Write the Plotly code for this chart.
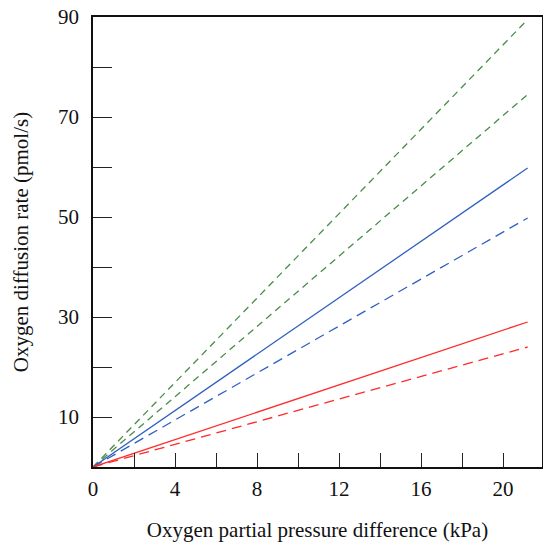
import plotly.graph_objects as go

# Data: lines from origin to end point at x_end
x_end = 21.2
series_names = ["Green dashed 1", "Green dashed 2", "Blue solid", "Blue dashed", "Red solid", "Red dashed"]
end_values = [89.5, 74.5, 59.8, 49.8, 29.0, 24.0]
colors = ["#4a8c4a", "#4a8c4a", "#3060c0", "#3060c0", "#ff2a2a", "#ff2a2a"]
dashes = ["7px,5px", "7px,5px", "solid", "10px,6px", "solid", "10px,6px"]

x_tickvals = [0, 2, 4, 6, 8, 10, 12, 14, 16, 18, 20]
x_ticktext = ["0", "", "4", "", "8", "", "12", "", "16", "", "20"]
y_tickvals = [10, 20, 30, 40, 50, 60, 70, 80, 90]
y_ticktext = ["10", "", "30", "", "50", "", "70", "", "90"]

fig = go.Figure()
for name, v, c, d in zip(series_names, end_values, colors, dashes):
    fig.add_trace(go.Scatter(x=[0, x_end], y=[0, v], mode="lines", name=name,
                             line=dict(color=c, width=1.3, dash=d)))

fam = "Liberation Serif, Times New Roman, serif"
fig.update_layout(
    width=543, height=545,
    margin=dict(l=93, r=1, t=17, b=78),
    plot_bgcolor="white", paper_bgcolor="white",
    showlegend=False, font=dict(family=fam, size=21, color="#111"),
)
fig.update_xaxes(range=[0, 21.9], tickvals=x_tickvals, ticktext=x_ticktext,
                 ticks="inside", ticklen=14, tickwidth=1.2, tickcolor="#222",
                 showline=True, linecolor="#111", linewidth=1.5, mirror=True,
                 showgrid=False, zeroline=False, automargin=False,
                 ticklabeloverflow="allow",
                 tickfont=dict(family=fam, size=21), ticklabelstandoff=2,
                 title=dict(text="Oxygen partial pressure difference (kPa)", standoff=22,
                            font=dict(family=fam, size=21)))
fig.update_yaxes(range=[0, 90], tickvals=y_tickvals, ticktext=y_ticktext,
                 ticks="inside", ticklen=19, tickwidth=1.2, tickcolor="#222",
                 showline=True, linecolor="#111", linewidth=1.5, mirror=True,
                 showgrid=False, zeroline=False, automargin=False,
                 ticklabeloverflow="allow",
                 tickfont=dict(family=fam, size=21), ticklabelstandoff=8,
                 title=dict(text="Oxygen diffusion rate (pmol/s)", standoff=24,
                            font=dict(family=fam, size=21)))
fig.write_html("out.html", config={"displayModeBar": False},
               post_script="document.body.style.margin='0';document.body.style.overflow='hidden';")
